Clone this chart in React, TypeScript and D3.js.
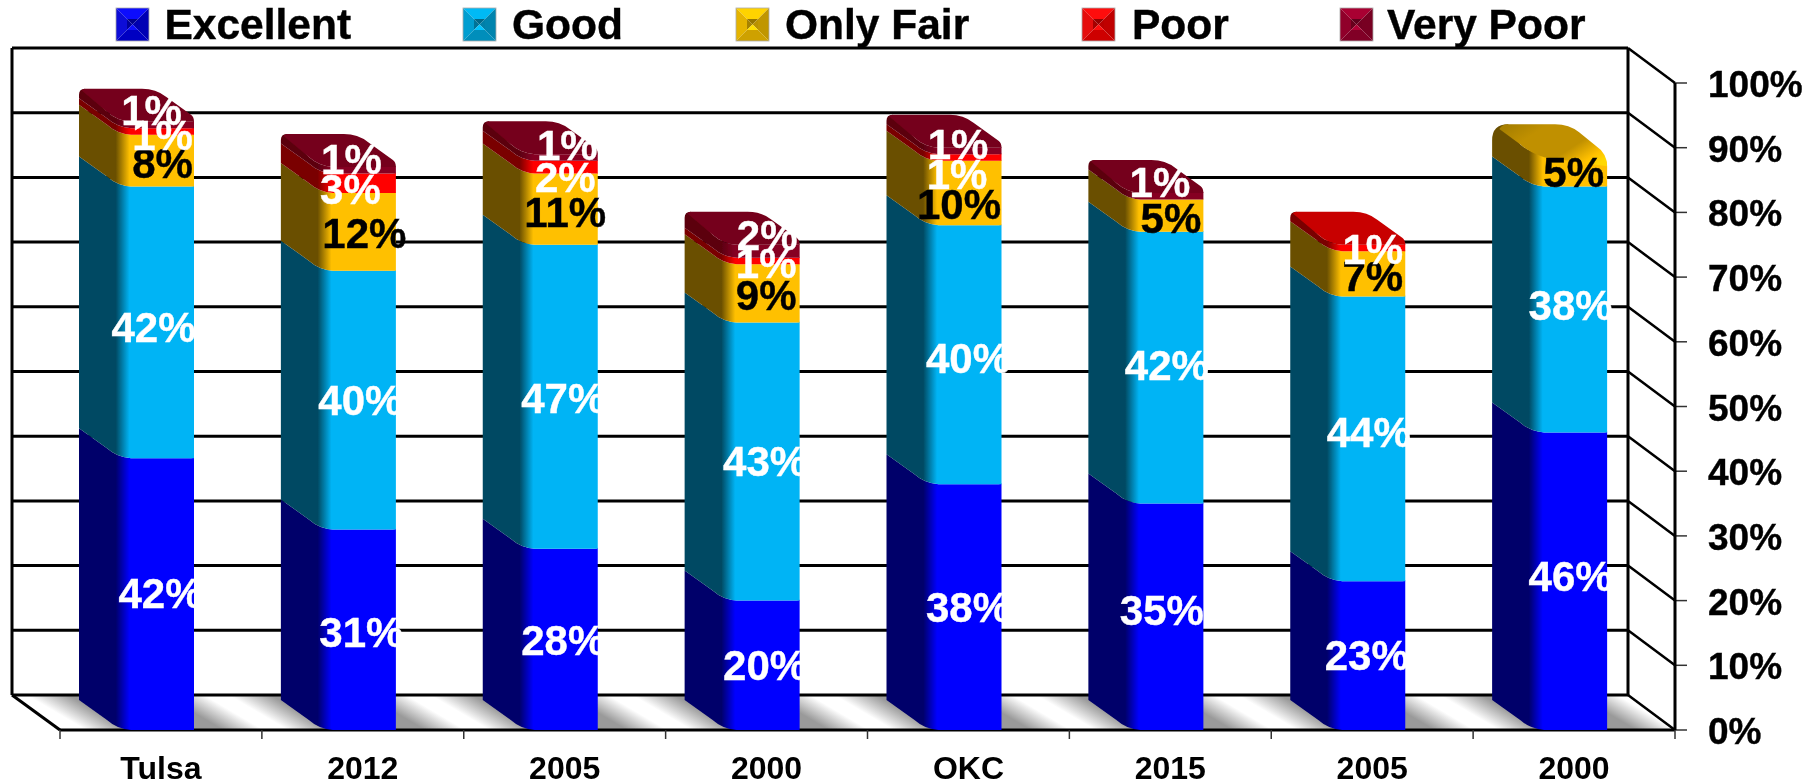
import React from 'react';
import * as d3 from 'd3';

const categories = ['Tulsa', '2012', '2005', '2000', 'OKC', '2015', '2005', '2000'];
const seriesNames = ['Excellent', 'Good', 'Only Fair', 'Poor', 'Very Poor'];

const excellent = [42, 31, 28, 20, 38, 35, 23, 46];
const good = [42, 40, 47, 43, 40, 42, 44, 38];
const onlyFair = [8, 12, 11, 9, 10, 5, 7, 5];
const poor = [1, 3, 2, 1, 1, 0, 1, 0];
const veryPoor = [1, 1, 1, 2, 1, 1, 0, 0];
const seriesValues = [excellent, good, onlyFair, poor, veryPoor];

const frontColors = ['#0000ff', '#00b4f5', '#ffc000', '#ff0000', '#860024'];
const sideColors = ['#00006a', '#004a63', '#6b5000', '#7a0000', '#5c0010'];
const topColors = ['#0000c8', '#0090c8', 'url(#goldTop)', '#c80000', '#75001a'];
const swatchColors = ['#0808f0', '#00b0e8', '#ffc800', '#ff0808', '#a00030'];
const labelColors = ['#fff', '#fff', '#000', '#fff', '#fff'];

// hand placed in the original, offsets from the segment centre [dx, dy]
const labelNudge = [
    [[3, -1], [2, 2], [2, 1], [2, 0], [3, 0], [-5, -7], [-2, -1], [0, -5]],
    [[-4, 5], [1, 0], [2, 1], [2, 0], [3, 3], [0, -3], [0, -7], [0, -4]],
    [[5, 2], [5, 1], [4, 3], [3, 2], [-6, 11], [4, 2], [4, 2], [3, 2]],
    [[5, 3], [-9, 6], [4, 10], [3, 2], [-8, 17], [0, 0], [4, 1], [0, 0]],
    [[-6, -15], [-8, -11], [6, -12], [4, -16], [-7, -7], [-7, -14], [0, 0], [0, 0]]
];

const legendSwatchX = [116, 463, 736, 1082, 1340];
const legendTextX = [164.5, 512, 785, 1132, 1387];

const FONT = '"Liberation Sans", Arial, sans-serif';
const depthX = 47;
const depthY = 35;
const barDepthX = 42;
const sideDepthY = 30;
const topDepthY = 33;
const barOffset = 61;
const barWidth = 73;

const x = d3.scaleBand<number>().domain(d3.range(categories.length)).range([60, 1675]);
const y = d3.scaleLinear().domain([0, 100]).range([730, 83]);
const yTicks = d3.range(0, 101, 10);

const stackRows = categories.map((_, i) => {
    const row: Record<string, number> = {};
    seriesNames.forEach((name, s) => { row[name] = seriesValues[s][i]; });
    return row;
});
const stacked = d3.stack<Record<string, number>>().keys(seriesNames)(stackRows);

// r = corner radius of the cap, only used on the uppermost segment
function segmentPath(i: number, v0: number, v1: number, r: number) {
    const xf = x(i)! + barOffset;
    const xb = xf - barDepthX;
    const xr = xf + barWidth;
    const y0 = y(v0);
    const y1 = y(v1);
    const p = d3.path();
    if (r > 0) {
        const yBack = y1 - topDepthY + (r > 10 ? 3 : 0);
        p.moveTo(xb, yBack + r);
        p.quadraticCurveTo(xb, yBack, xb + r, yBack);
    } else {
        p.moveTo(xb, y1 - sideDepthY);
    }
    p.lineTo(xf - 14, y1 - 10);
    p.quadraticCurveTo(xf - 4, y1 - 1, xf + 10, y1);
    if (r > 10) {
        p.lineTo(xr - 12, y1);
        p.quadraticCurveTo(xr, y1, xr, y1 + 12);
    } else {
        p.lineTo(xr - 3, y1);
        p.quadraticCurveTo(xr, y1, xr, y1 - 1);
    }
    p.lineTo(xr, y0);
    p.lineTo(xf + 10, y0);
    p.quadraticCurveTo(xf - 4, y0 - 1, xf - 14, y0 - 10);
    p.lineTo(xb, y0 - sideDepthY);
    p.closePath();
    return p.toString();
}

function topPath(i: number, v: number, r: number) {
    const xf = x(i)! + barOffset;
    const xb = xf - barDepthX;
    const xr = xf + barWidth;
    const yt = y(v);
    const big = r > 10;
    const yBack = yt - topDepthY + (big ? 3 : 0);
    const p = d3.path();
    p.moveTo(xb + r * 0.45, yBack + r * 0.3);
    p.quadraticCurveTo(xb + r * 0.6, yBack, xb + r, yBack);
    p.lineTo(xr - 52, yBack);
    p.quadraticCurveTo(xr - 38, yBack, xr - 28, yBack + 8);
    if (big) {
        p.lineTo(xr - 12, yt - 9);
        p.quadraticCurveTo(xr, yt - 1, xr, yt + 12);
        p.lineTo(xf + 10, yt + 3);
    } else {
        p.lineTo(xr - 3, yt - 7);
        p.quadraticCurveTo(xr, yt - 5, xr, yt);
        p.lineTo(xf + 10, yt);
    }
    p.quadraticCurveTo(xf - 4, yt - 1, xf - 14, yt - 10);
    p.closePath();
    return p.toString();
}

function Swatch({left, color}: {left: number, color: string}) {
    const s = 33;
    const a = left;
    const b = left + s;
    const c = d3.rgb(color);
    const poly = (pts: number[][], fill: string, key: string) => (
        <polygon key={key} points={pts.map(d => d.join(',')).join(' ')} fill={fill} />
    );
    const i0 = a + 11;
    const i1 = b - 11;
    const y0 = 8;
    const y1 = y0 + s;
    const j0 = y0 + 11;
    const j1 = y1 - 11;
    const mx = a + s / 2;
    const my = y0 + s / 2;
    return (
        <g>
            {poly([[a, y0], [b, y0], [i1, j0], [i0, j0]], c.brighter(0.15).toString(), 't')}
            {poly([[a, y0], [i0, j0], [i0, j1], [a, y1]], c.darker(0.3).toString(), 'l')}
            {poly([[b, y0], [i1, j0], [i1, j1], [b, y1]], c.darker(0.8).toString(), 'r')}
            {poly([[a, y1], [i0, j1], [i1, j1], [b, y1]], c.darker(0.6).toString(), 'b')}
            {poly([[i0, j0], [i1, j0], [mx, my]], c.darker(1.5).toString(), 'it')}
            {poly([[i0, j0], [mx, my], [i0, j1]], c.darker(1.2).toString(), 'il')}
            {poly([[i1, j0], [mx, my], [i1, j1]], c.darker(0.9).toString(), 'ir')}
            {poly([[i0, j1], [mx, my], [i1, j1]], c.brighter(0.3).toString(), 'ib')}
            <rect x={a} y={y0} width={s} height={s} fill="none" stroke="#aaa" strokeWidth={0.8} />
        </g>
    );
}

export default function App() {
    const x0 = 60;
    const x1 = 1675;
    const backLeft = 12;
    const backRight = x1 - depthX;
    const y100 = y(100);
    const yZero = y(0);

    return (
        <svg width={1818} height={783} style={{position: 'absolute', left: 0, top: 0, display: 'block', background: '#fff'}}>
            <defs>
                <filter id="soft" x="0" y="0" width="100%" height="100%" filterUnits="objectBoundingBox">
                    <feGaussianBlur stdDeviation="0.55" />
                </filter>
                <linearGradient
                    id="floorShade"
                    gradientUnits="userSpaceOnUse"
                    x1={233}
                    y1={0}
                    x2={233 + x.bandwidth()}
                    y2={0}
                    spreadMethod="repeat"
                    gradientTransform={`matrix(1 0 1.7 1 ${-1.7 * 712} 0)`}
                >
                    <stop offset="0" stopColor="#fff" />
                    <stop offset="0.12" stopColor="#fff" />
                    <stop offset="0.33" stopColor="#9a9a9a" />
                    <stop offset="0.8" stopColor="#9a9a9a" />
                    <stop offset="1" stopColor="#fff" />
                </linearGradient>
                <linearGradient id="goldTop" x1="0" y1="0.2" x2="1" y2="0.8">
                    <stop offset="0" stopColor="#a88000" />
                    <stop offset="0.25" stopColor="#c09000" />
                    <stop offset="0.65" stopColor="#c09000" />
                    <stop offset="0.88" stopColor="#ffc000" />
                    <stop offset="1" stopColor="#ffd800" />
                </linearGradient>
                {seriesNames.map((name, s) => (
                    <linearGradient id={`bar${s}`} key={name} x1="0" x2="1" y1="0" y2="0">
                        <stop offset="0" stopColor={sideColors[s]} />
                        <stop offset="0.32" stopColor={sideColors[s]} />
                        <stop offset="0.44" stopColor={frontColors[s]} />
                        <stop offset="1" stopColor={frontColors[s]} />
                    </linearGradient>
                ))}
            </defs>
            <g filter="url(#soft)">
                <rect width={1818} height={783} fill="#fff" />

                {/* floor */}
                <polygon
                    points={`${backLeft},${yZero - depthY} ${backRight},${yZero - depthY} ${x1},${yZero} ${x0},${yZero}`}
                    fill="url(#floorShade)"
                />

                {/* back wall grid and side wall */}
                {yTicks.map(t => (
                    <g key={t}>
                        <line x1={backLeft} x2={backRight} y1={y(t) - depthY} y2={y(t) - depthY} stroke="#000" strokeWidth={3} />
                        <line x1={backRight} x2={x1} y1={y(t) - depthY} y2={y(t)} stroke="#000" strokeWidth={2.5} />
                        <line x1={x1} x2={1687} y1={y(t)} y2={y(t)} stroke="#333" strokeWidth={1.5} />
                        <text x={1708} y={y(t) + 14} fontFamily={FONT} fontWeight="bold" fontSize={37} fill="#000" stroke="#000" strokeWidth={0.4}>
                            {t}%
                        </text>
                    </g>
                ))}
                <line x1={backLeft} x2={backLeft} y1={y100 - depthY} y2={yZero - depthY} stroke="#000" strokeWidth={3} />
                <line x1={backRight} x2={backRight} y1={y100 - depthY} y2={yZero - depthY} stroke="#000" strokeWidth={3} />
                <line x1={x1} x2={x1} y1={y100} y2={yZero} stroke="#000" strokeWidth={3} />
                <line x1={backLeft} x2={x0} y1={yZero - depthY} y2={yZero} stroke="#000" strokeWidth={3} />
                <line x1={x0} x2={x1} y1={yZero} y2={yZero} stroke="#000" strokeWidth={3} />

                {/* category ticks and labels */}
                {d3.range(categories.length + 1).map(i => (
                    <line
                        key={i}
                        x1={x0 + i * x.bandwidth()}
                        x2={x0 + i * x.bandwidth()}
                        y1={yZero}
                        y2={yZero + 9}
                        stroke="#333"
                        strokeWidth={1.5}
                    />
                ))}
                {categories.map((c, i) => (
                    <text
                        key={i}
                        x={x(i)! + x.bandwidth() / 2}
                        y={779}
                        textAnchor="middle"
                        fontFamily={FONT}
                        fontWeight="bold"
                        fontSize={32}
                        fill="#000"
                    >
                        {c}
                    </text>
                ))}

                {/* bars */}
                {categories.map((_, i) => {
                    const topIndex = d3.max(seriesNames.map((_n, s) => (seriesValues[s][i] > 0 ? s : -1)))!;
                    const r = topIndex === 2 ? 16 : 6;
                    return (
                        <g key={i}>
                            {stacked.map((layer, s) => (
                                seriesValues[s][i] > 0
                                    ? <path key={s} d={segmentPath(i, layer[i][0], layer[i][1], s === topIndex ? r : 0)} fill={`url(#bar${s})`} />
                                    : null
                            ))}
                            <path d={topPath(i, stacked[topIndex][i][1], r)} fill={topColors[topIndex]} />
                        </g>
                    );
                })}

                {/* value labels */}
                {categories.map((_, i) => stacked.map((layer, s) => {
                    if (seriesValues[s][i] === 0) return null;
                    const [dx, dy] = labelNudge[s][i];
                    const cx = x(i)! + barOffset + barWidth / 2 + dx;
                    const cy = (y(layer[i][0]) + y(layer[i][1])) / 2 + dy;
                    return (
                        <text
                            key={`${i}-${s}`}
                            x={cx}
                            y={cy + 15}
                            textAnchor="middle"
                            fontFamily={FONT}
                            fontWeight="bold"
                            fontSize={42}
                            fill={labelColors[s]}
                            stroke={labelColors[s]}
                            strokeWidth={0.4}
                        >
                            {seriesValues[s][i]}%
                        </text>
                    );
                }))}

                {/* legend */}
                {seriesNames.map((name, s) => (
                    <g key={name}>
                        <Swatch left={legendSwatchX[s]} color={swatchColors[s]} />
                        <text x={legendTextX[s]} y={39} fontFamily={FONT} fontWeight="bold" fontSize={42.5} fill="#000" stroke="#000" strokeWidth={0.4}>
                            {name}
                        </text>
                    </g>
                ))}
            </g>
        </svg>
    );
}
